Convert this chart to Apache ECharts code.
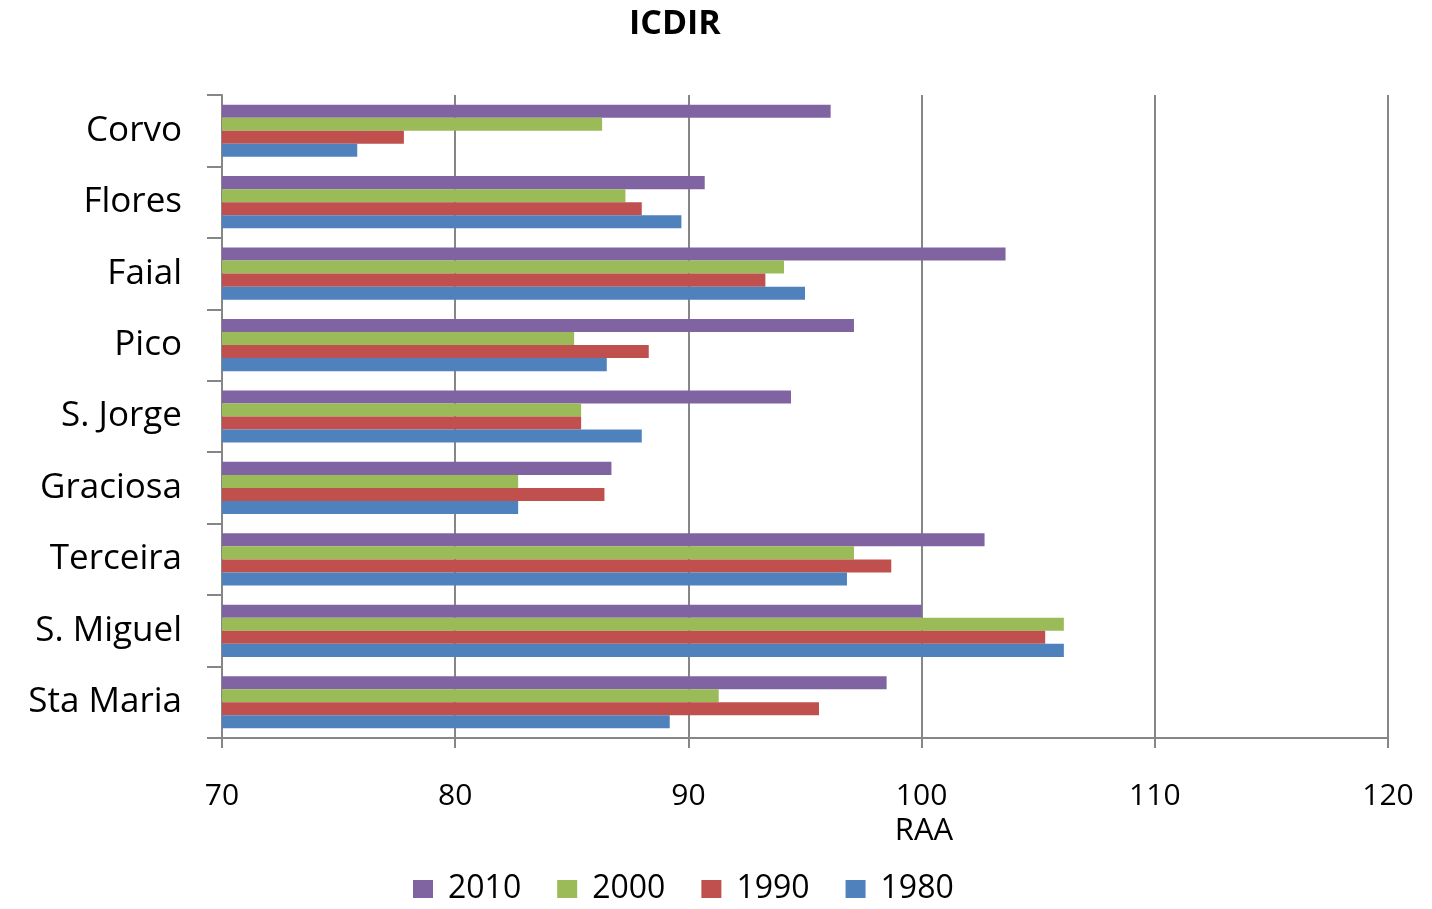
<!DOCTYPE html>
<html><head><meta charset="utf-8">
<script src="https://cdn.jsdelivr.net/npm/echarts@6/dist/echarts.min.js"></script>
<style>html,body{margin:0;padding:0;background:#fff}#c{width:1432px;height:909px}</style>
</head><body><div id="c"></div>
<script>
const categories = ['Sta Maria','S. Miguel','Terceira','Graciosa','S. Jorge','Pico','Faial','Flores','Corvo'];
const s1980 = [89.2,106.1,96.8,82.7,88.0,86.5,95.0,89.7,75.8];
const s1990 = [95.6,105.3,98.7,86.4,85.4,88.3,93.3,88.0,77.8];
const s2000 = [91.3,106.1,97.1,82.7,85.4,85.1,94.1,87.3,86.3];
const s2010 = [98.5,100.0,102.7,86.7,94.4,97.1,103.6,90.7,96.1];
const legendOrder = ['2010','2000','1990','1980'];

const font = '"Open Sans", sans-serif';
const chart = echarts.init(document.getElementById('c'));
const mk = (name, data, color) => ({
  name, type: 'bar', data, barGap: '0%', barCategoryGap: '27%',
  itemStyle: {color}, animation: false
});
chart.setOption({
  animation: false,
  title: {text: 'ICDIR', left: 624, top: 2,
    textStyle: {fontFamily: font, fontSize: 34, fontWeight: 'bold', color: '#000'}},
  legend: {data: legendOrder, bottom: -1, left: 408, itemWidth: 20, itemHeight: 18, itemGap: 36,
    textStyle: {fontFamily: font, fontSize: 32, color: '#000', padding: [0,0,0,10]}, icon: 'rect'},
  grid: {left: 222, right: 44, top: 95, bottom: 171, containLabel: false},
  xAxis: {type: 'value', min: 70, max: 120, interval: 10,
    name: 'RAA', nameLocation: 'middle', nameGap: 76,
    nameTextStyle: {fontFamily: font, fontSize: 31, color: '#000', padding: [0,0,0,238]},
    axisLine: {show: true, lineStyle: {color: '#868686', width: 2}},
    axisTick: {show: true, length: 10, lineStyle: {color: '#868686', width: 2}},
    splitLine: {show: true, lineStyle: {color: '#868686', width: 2}},
    axisLabel: {fontFamily: font, fontSize: 30, color: '#000', margin: 43}},
  yAxis: {type: 'category', data: categories,
    axisLine: {show: true, lineStyle: {color: '#868686', width: 2}},
    axisTick: {show: true, length: 15, lineStyle: {color: '#868686', width: 2}},
    axisLabel: {fontFamily: font, fontSize: 35, color: '#000', margin: 40}},
  series: [
    mk('2010', s2010, '#8064A2'),
    mk('2000', s2000, '#9BBB59'),
    mk('1990', s1990, '#C0504D'),
    mk('1980', s1980, '#4F81BD')
  ]
});
</script></body></html>
